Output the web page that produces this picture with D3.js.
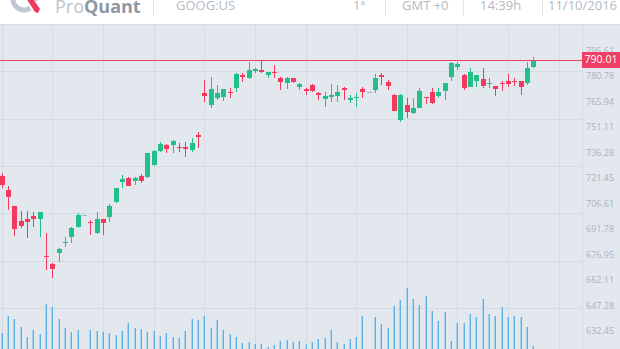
<!DOCTYPE html>
<html>
<head>
<meta charset="utf-8">
<script src="https://cdn.jsdelivr.net/npm/d3@7"></script>
<style>
  html, body { margin: 0; padding: 0; background: #ffffff; overflow: hidden; }
  svg { display: block; }
</style>
</head>
<body>
<svg id="chart" width="620" height="349"></svg>
<script>
// GOOG:US daily candles, 15 Jun – 11 Oct 2016
const dates = [
  "2016-06-15","2016-06-16","2016-06-17","2016-06-20","2016-06-21","2016-06-22","2016-06-23","2016-06-24","2016-06-27","2016-06-28",
  "2016-06-29","2016-06-30","2016-07-01","2016-07-04","2016-07-05","2016-07-06","2016-07-07","2016-07-08","2016-07-11","2016-07-12",
  "2016-07-13","2016-07-14","2016-07-15","2016-07-18","2016-07-19","2016-07-20","2016-07-21","2016-07-22","2016-07-25","2016-07-26",
  "2016-07-27","2016-07-28","2016-07-29","2016-08-01","2016-08-02","2016-08-03","2016-08-04","2016-08-05","2016-08-08","2016-08-09",
  "2016-08-10","2016-08-11","2016-08-12","2016-08-15","2016-08-16","2016-08-17","2016-08-18","2016-08-19","2016-08-22","2016-08-23",
  "2016-08-24","2016-08-25","2016-08-26","2016-08-29","2016-08-30","2016-08-31","2016-09-01","2016-09-02","2016-09-05","2016-09-06",
  "2016-09-07","2016-09-08","2016-09-09","2016-09-12","2016-09-13","2016-09-14","2016-09-15","2016-09-16","2016-09-19","2016-09-20",
  "2016-09-21","2016-09-22","2016-09-23","2016-09-26","2016-09-27","2016-09-28","2016-09-29","2016-09-30","2016-10-03","2016-10-04",
  "2016-10-05","2016-10-06","2016-10-07","2016-10-10","2016-10-11"
];

const openPrices = [
  722.63,714.48,705.18,696.46,697.62,699.36,697.62,676.10,671.45,677.85,
  683.66,687.15,692.97,699.94,695.87,689.48,697.62,698.78,707.51,719.14,
  721.46,719.72,722.63,722.04,729.02,737.16,740.65,740.65,739.49,739.49,
  737.75,746.47,770.90,763.92,767.99,768.57,771.48,773.80,781.36,779.62,
  783.69,784.27,781.36,783.11,779.62,776.71,779.62,774.38,773.22,775.55,
  770.90,767.41,768.57,769.15,773.80,766.82,767.99,773.22,771.48,772.64,
  781.36,777.29,769.73,755.19,763.92,759.26,762.17,768.57,771.48,769.15,
  772.06,780.20,786.02,781.36,774.38,777.87,779.04,776.13,774.97,776.71,
  777.87,777.87,777.87,776.71,786.02
];
const highPrices = [
  724.37,716.81,705.18,702.27,702.27,701.69,701.69,689.48,672.03,680.75,
  687.15,692.97,701.11,699.94,697.04,701.69,697.62,706.34,715.65,723.21,
  722.04,722.04,723.79,736.00,737.75,742.40,741.24,743.56,741.82,742.40,
  744.73,748.21,778.46,780.20,775.55,773.22,773.80,782.53,782.53,788.92,
  785.43,789.51,783.11,787.18,780.20,780.20,779.62,776.71,773.80,776.13,
  771.48,771.48,776.13,775.55,774.38,769.73,770.90,774.38,771.48,781.95,
  782.53,778.46,770.31,770.31,767.99,767.99,773.80,768.57,773.80,773.80,
  776.71,788.92,788.92,781.95,785.43,781.36,785.43,779.62,774.97,777.87,
  781.95,779.62,777.87,788.92,791.83
];
const lowPrices = [
  715.65,702.85,687.73,692.38,686.57,692.97,687.15,667.96,663.31,672.61,
  681.34,683.66,692.38,699.94,688.31,688.90,688.31,695.87,706.92,715.65,
  716.81,717.39,718.55,721.46,728.44,736.58,736.00,736.00,736.58,733.68,
  736.58,738.91,765.66,762.17,766.82,766.24,767.99,771.48,777.29,779.04,
  782.53,782.53,779.62,779.62,772.64,773.22,776.71,772.64,769.73,771.48,
  766.82,762.75,765.66,765.66,766.82,765.08,762.75,767.99,771.48,770.90,
  775.55,772.64,760.43,754.03,756.36,758.68,762.17,764.50,764.50,767.99,
  766.82,777.87,784.27,772.64,774.38,774.38,773.80,773.80,769.15,772.06,
  774.38,774.97,769.73,775.55,785.43
];
const closePrices = [
  717.39,710.41,691.80,693.55,695.87,697.62,701.69,675.52,668.54,680.17,
  684.24,692.38,699.94,699.94,695.29,697.62,695.29,705.18,715.65,720.88,
  716.81,721.46,719.72,736.00,737.16,741.24,738.33,742.98,738.91,738.33,
  741.82,745.31,769.15,773.22,770.90,773.22,770.90,781.95,780.20,784.27,
  784.85,783.11,783.11,782.53,777.29,779.62,777.29,776.13,772.06,772.06,
  769.73,769.15,769.73,771.48,772.64,767.99,768.57,771.48,771.48,779.62,
  780.20,774.97,760.43,769.73,759.85,762.17,772.06,767.99,765.08,771.48,
  776.71,788.34,787.76,773.80,783.11,781.36,774.97,776.71,773.22,776.13,
  776.13,777.29,774.38,785.43,790.01
];
// volume in thousands of shares
const volumes = [
  760,1440,1320,1000,600,880,720,1920,1800,1320,
  960,800,880,0,880,840,800,760,680,840,
  1160,960,920,800,840,640,760,600,560,840,
  1320,1280,1440,960,1280,880,720,600,360,400,
  320,320,200,280,440,480,400,440,300,400,
  520,560,880,400,320,520,600,1440,0,1400,
  1120,960,1840,2080,2560,2120,1880,2240,1640,1240,
  1600,440,1160,1160,1520,1400,2120,1520,1440,1800,
  1400,1440,1400,1000,240
];

const priceTicks = [795.61,780.78,765.94,751.11,736.28,721.45,706.61,691.78,676.95,662.11,647.28,632.45];
const lastPrice = 790.01;

const headerItems = [
  { text: "GOOG:US", x: 176 },
  { text: "1ª", x: 353 },
  { text: "GMT +0", x: 402 },
  { text: "14:39h", x: 480 },
  { text: "11/10/2016", x: 548 }
];
const headerDividers = [153, 385, 463, 542];

const W = 620, H = 349;
const headerH = 24;
const plotRight = 582;

const colors = {
  bg: "#e3e7ee",
  grid: "#d6dbe3",
  up: "#22bf8a",
  down: "#f23a5e",
  flat: "#aab1bb",
  volume: "#5cb0e4",
  volumeEdge: "#a6d3ef",
  axisText: "#aab2be",
  last: "#f03d63"
};

const svg = d3.select("#chart");

const bars = dates.map((d, i) => ({
  date: d, i,
  open: openPrices[i], high: highPrices[i], low: lowPrices[i], close: closePrices[i],
  volume: volumes[i]
}));

// scales
const x = d3.scaleLinear().domain([0, dates.length - 1]).range([1.7, 533.4]);
const y = d3.scaleLinear().domain([632.45, 780.78]).range([331, 76]);
const yVol = d3.scaleLinear().domain([0, 2800]).range([352, 282]);

// background
svg.append("rect").attr("width", W).attr("height", H).attr("fill", colors.bg);

// clip for plot
svg.append("defs").append("clipPath").attr("id", "plotClip")
  .append("rect").attr("x", 0).attr("y", headerH).attr("width", plotRight).attr("height", H - headerH);

const grid = svg.append("g").attr("stroke", colors.grid).attr("stroke-width", 1);
// vertical grid every 8 sessions
d3.range(0, 96, 8).forEach(k => {
  const gx = Math.round(x(k)) + 0.5;
  if (gx < plotRight) grid.append("line").attr("x1", gx).attr("x2", gx).attr("y1", headerH).attr("y2", H);
});
// horizontal grid rows
d3.range(1, 7).forEach(k => {
  const gy = Math.round(headerH + k * 47.3) + 0.5;
  grid.append("line").attr("x1", 0).attr("x2", plotRight).attr("y1", gy).attr("y2", gy);
});

const plot = svg.append("g").attr("clip-path", "url(#plotClip)");

// volume bars: a soft 1px edge beside a 1px solid core
const volG = plot.append("g").selectAll("g").data(bars.filter(b => b.volume > 0)).join("g");
volG.append("rect")
  .attr("x", b => Math.round(x(b.i)) - 1)
  .attr("width", 1)
  .attr("y", b => yVol(b.volume))
  .attr("height", b => yVol(0) - yVol(b.volume))
  .attr("fill", colors.volumeEdge);
volG.append("rect")
  .attr("x", b => Math.round(x(b.i)))
  .attr("width", 1)
  .attr("y", b => yVol(b.volume))
  .attr("height", b => yVol(0) - yVol(b.volume))
  .attr("fill", colors.volume);

// candles
const candleColor = b => b.volume === 0 ? colors.flat : (b.close >= b.open ? colors.up : colors.down);
const candles = plot.append("g").selectAll("g").data(bars).join("g");
candles.append("line")
  .attr("x1", b => Math.round(x(b.i)) + 0.5)
  .attr("x2", b => Math.round(x(b.i)) + 0.5)
  .attr("y1", b => y(b.high))
  .attr("y2", b => y(b.low))
  .attr("stroke", candleColor)
  .attr("stroke-width", 1);
candles.append("rect")
  .attr("x", b => Math.round(x(b.i)) - 2)
  .attr("width", 5)
  .attr("y", b => y(Math.max(b.open, b.close)))
  .attr("height", b => Math.max(1, Math.abs(y(b.open) - y(b.close))))
  .attr("fill", candleColor);

// last price line
const yLast = y(lastPrice);
svg.append("line")
  .attr("x1", 0).attr("x2", plotRight)
  .attr("y1", Math.round(yLast) + 0.5).attr("y2", Math.round(yLast) + 0.5)
  .attr("stroke", colors.last).attr("stroke-width", 1);

// price axis
svg.append("line").attr("x1", plotRight + 0.5).attr("x2", plotRight + 0.5)
  .attr("y1", headerH).attr("y2", H).attr("stroke", colors.grid);
const axis = d3.axisRight(y).tickValues(priceTicks).tickSize(0).tickPadding(4)
  .tickFormat(d3.format(".2f"));
const axisG = svg.append("g").attr("transform", `translate(${plotRight},0)`).call(axis);
axisG.select(".domain").remove();
axisG.selectAll("text")
  .attr("fill", colors.axisText)
  .attr("font-family", "'Open Sans', sans-serif")
  .attr("font-size", 9);

// last price tag
svg.append("rect")
  .attr("x", plotRight).attr("y", Math.round(yLast) - 8)
  .attr("width", W - plotRight).attr("height", 16)
  .attr("fill", colors.last);
svg.append("text")
  .attr("x", plotRight + 19).attr("y", yLast + 0.5)
  .attr("text-anchor", "middle").attr("dominant-baseline", "middle")
  .attr("fill", "#ffffff")
  .attr("font-family", "'Open Sans', sans-serif").attr("font-size", 10.5)
  .text(d3.format(".2f")(lastPrice));

// header bar
const header = svg.append("g");
header.append("rect").attr("width", W).attr("height", headerH).attr("fill", "#ffffff");
header.append("line").attr("x1", 0).attr("x2", W).attr("y1", headerH + 0.5).attr("y2", headerH + 0.5)
  .attr("stroke", "#d9dee5");

// logo mark
const logo = header.append("g").attr("transform", "translate(24,-1)");
logo.append("path")
  .attr("d", d3.arc().innerRadius(8.5).outerRadius(13.5).startAngle(2.55).endAngle(2 * Math.PI + 1.75)())
  .attr("fill", "#c2c8d1");
logo.append("path")
  .attr("d", "M2,-1 L7,-3 L16,10 L14,14 L11,13 Z")
  .attr("fill", "#ee3a5f");

const brand = header.append("text")
  .attr("x", 55).attr("y", 13)
  .attr("font-family", "'Open Sans', sans-serif").attr("font-size", 18);
brand.append("tspan").attr("fill", "#bcc3cc").text("Pro");
brand.append("tspan").attr("fill", "#8f98a4").attr("font-weight", 700).text("Quant");

header.selectAll("line.div").data(headerDividers).join("line")
  .attr("class", "div")
  .attr("x1", d => d + 0.5).attr("x2", d => d + 0.5)
  .attr("y1", 0).attr("y2", 16)
  .attr("stroke", "#e4e7ec");

header.selectAll("text.item").data(headerItems).join("text")
  .attr("class", "item")
  .attr("x", d => d.x).attr("y", 10)
  .attr("fill", "#b3bac5")
  .attr("font-family", "'Open Sans', sans-serif").attr("font-size", 13)
  .text(d => d.text);
</script>
</body>
</html>
